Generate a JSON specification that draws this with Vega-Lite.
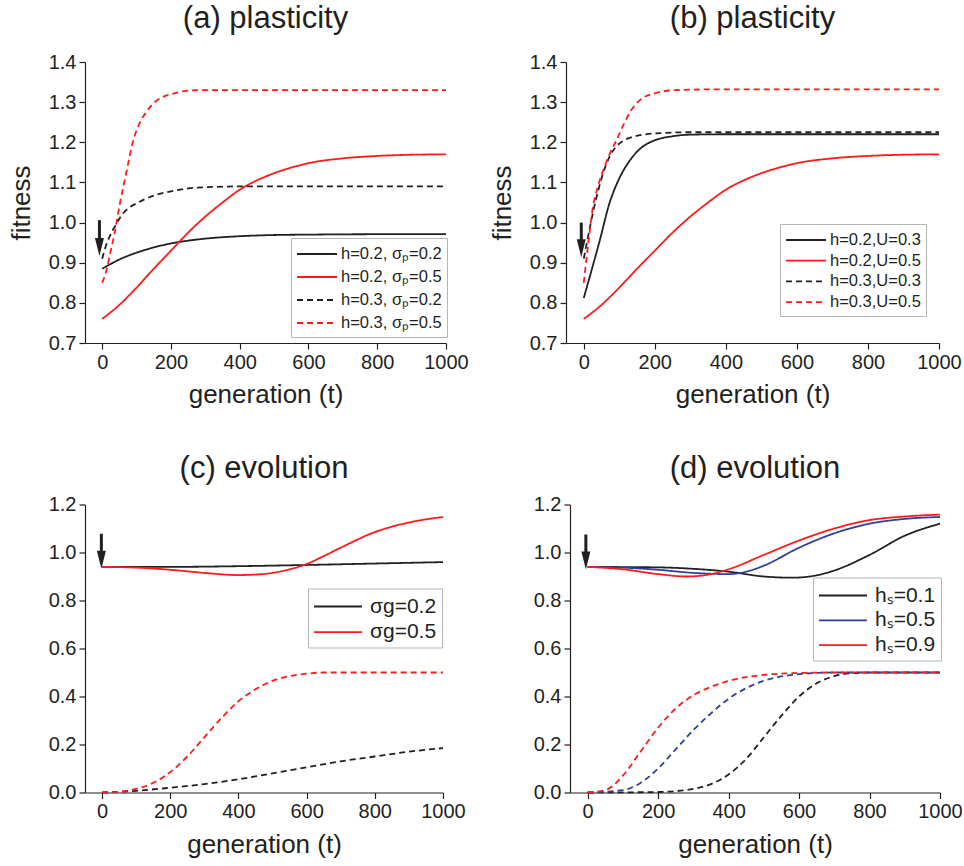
{
  "$schema": "https://vega.github.io/schema/vega-lite/v6.json",
  "padding": {"left": 5, "top": 3, "right": 0, "bottom": 0},
  "background": "white",
  "config": {
    "font": "Liberation Sans",
    "view": {"stroke": null},
    "axis": {"grid": false, "domainColor": "#231f20", "tickColor": "#231f20", "labelColor": "#231f20", "titleColor": "#231f20", "labelFont": "Liberation Sans", "labelFontSize": 20, "titleFont": "Liberation Sans", "titleFontSize": 26, "titleFontWeight": "normal", "labelOverlap": false, "labelFlush": false, "domainWidth": 1.2, "tickWidth": 1.2, "labelPadding": 3},
    "title": {"font": "Liberation Sans", "fontSize": 31, "fontWeight": "normal", "color": "#231f20", "anchor": "middle", "frame": "group", "offset": 14},
    "legend": {"orient": "none", "symbolType": "M-2,0H2", "symbolStrokeWidth": 2, "labelFont": "Liberation Sans", "labelColor": "#231f20", "strokeColor": "#b5b5b5", "fillColor": "white", "padding": 5, "cornerRadius": 0},
    "line": {"strokeWidth": 1.8, "interpolate": "monotone"}
  },
  "resolve": {"scale": {"color": "independent", "strokeDash": "independent"}, "legend": {"color": "independent", "strokeDash": "independent"}},
  "datasets": {
    "a": [
      {"t":0,"f":0.885,"s":"h=0.2, σₚ=0.2"},{"t":25,"f":0.897,"s":"h=0.2, σₚ=0.2"},{"t":50,"f":0.908,"s":"h=0.2, σₚ=0.2"},{"t":100,"f":0.925,"s":"h=0.2, σₚ=0.2"},{"t":150,"f":0.938,"s":"h=0.2, σₚ=0.2"},{"t":200,"f":0.948,"s":"h=0.2, σₚ=0.2"},{"t":250,"f":0.955,"s":"h=0.2, σₚ=0.2"},{"t":300,"f":0.96,"s":"h=0.2, σₚ=0.2"},{"t":400,"f":0.966,"s":"h=0.2, σₚ=0.2"},{"t":500,"f":0.969,"s":"h=0.2, σₚ=0.2"},{"t":600,"f":0.97,"s":"h=0.2, σₚ=0.2"},{"t":800,"f":0.971,"s":"h=0.2, σₚ=0.2"},{"t":1000,"f":0.971,"s":"h=0.2, σₚ=0.2"},
      {"t":0,"f":0.76,"s":"h=0.2, σₚ=0.5"},{"t":50,"f":0.795,"s":"h=0.2, σₚ=0.5"},{"t":100,"f":0.838,"s":"h=0.2, σₚ=0.5"},{"t":150,"f":0.885,"s":"h=0.2, σₚ=0.5"},{"t":200,"f":0.93,"s":"h=0.2, σₚ=0.5"},{"t":250,"f":0.975,"s":"h=0.2, σₚ=0.5"},{"t":300,"f":1.015,"s":"h=0.2, σₚ=0.5"},{"t":350,"f":1.05,"s":"h=0.2, σₚ=0.5"},{"t":400,"f":1.082,"s":"h=0.2, σₚ=0.5"},{"t":450,"f":1.105,"s":"h=0.2, σₚ=0.5"},{"t":500,"f":1.123,"s":"h=0.2, σₚ=0.5"},{"t":550,"f":1.137,"s":"h=0.2, σₚ=0.5"},{"t":600,"f":1.148,"s":"h=0.2, σₚ=0.5"},{"t":700,"f":1.16,"s":"h=0.2, σₚ=0.5"},{"t":800,"f":1.166,"s":"h=0.2, σₚ=0.5"},{"t":900,"f":1.169,"s":"h=0.2, σₚ=0.5"},{"t":1000,"f":1.17,"s":"h=0.2, σₚ=0.5"},
      {"t":0,"f":0.91,"s":"h=0.3, σₚ=0.2"},{"t":10,"f":0.94,"s":"h=0.3, σₚ=0.2"},{"t":20,"f":0.962,"s":"h=0.3, σₚ=0.2"},{"t":40,"f":0.995,"s":"h=0.3, σₚ=0.2"},{"t":60,"f":1.022,"s":"h=0.3, σₚ=0.2"},{"t":80,"f":1.038,"s":"h=0.3, σₚ=0.2"},{"t":100,"f":1.048,"s":"h=0.3, σₚ=0.2"},{"t":150,"f":1.067,"s":"h=0.3, σₚ=0.2"},{"t":200,"f":1.078,"s":"h=0.3, σₚ=0.2"},{"t":250,"f":1.085,"s":"h=0.3, σₚ=0.2"},{"t":300,"f":1.088,"s":"h=0.3, σₚ=0.2"},{"t":400,"f":1.09,"s":"h=0.3, σₚ=0.2"},{"t":1000,"f":1.09,"s":"h=0.3, σₚ=0.2"},
      {"t":0,"f":0.85,"s":"h=0.3, σₚ=0.5"},{"t":12,"f":0.88,"s":"h=0.3, σₚ=0.5"},{"t":25,"f":0.93,"s":"h=0.3, σₚ=0.5"},{"t":36,"f":0.973,"s":"h=0.3, σₚ=0.5"},{"t":50,"f":1.04,"s":"h=0.3, σₚ=0.5"},{"t":70,"f":1.124,"s":"h=0.3, σₚ=0.5"},{"t":89,"f":1.2,"s":"h=0.3, σₚ=0.5"},{"t":110,"f":1.25,"s":"h=0.3, σₚ=0.5"},{"t":128,"f":1.275,"s":"h=0.3, σₚ=0.5"},{"t":150,"f":1.298,"s":"h=0.3, σₚ=0.5"},{"t":176,"f":1.313,"s":"h=0.3, σₚ=0.5"},{"t":210,"f":1.322,"s":"h=0.3, σₚ=0.5"},{"t":243,"f":1.328,"s":"h=0.3, σₚ=0.5"},{"t":300,"f":1.33,"s":"h=0.3, σₚ=0.5"},{"t":1000,"f":1.33,"s":"h=0.3, σₚ=0.5"}
    ],
    "b": [
      {"t":0,"f":0.812,"s":"h=0.2,U=0.3"},{"t":20,"f":0.875,"s":"h=0.2,U=0.3"},{"t":44,"f":0.952,"s":"h=0.2,U=0.3"},{"t":73,"f":1.05,"s":"h=0.2,U=0.3"},{"t":100,"f":1.11,"s":"h=0.2,U=0.3"},{"t":130,"f":1.155,"s":"h=0.2,U=0.3"},{"t":160,"f":1.185,"s":"h=0.2,U=0.3"},{"t":200,"f":1.205,"s":"h=0.2,U=0.3"},{"t":250,"f":1.215,"s":"h=0.2,U=0.3"},{"t":300,"f":1.219,"s":"h=0.2,U=0.3"},{"t":400,"f":1.22,"s":"h=0.2,U=0.3"},{"t":1000,"f":1.22,"s":"h=0.2,U=0.3"},
      {"t":0,"f":0.76,"s":"h=0.2,U=0.5"},{"t":50,"f":0.795,"s":"h=0.2,U=0.5"},{"t":100,"f":0.838,"s":"h=0.2,U=0.5"},{"t":150,"f":0.885,"s":"h=0.2,U=0.5"},{"t":200,"f":0.93,"s":"h=0.2,U=0.5"},{"t":250,"f":0.975,"s":"h=0.2,U=0.5"},{"t":300,"f":1.015,"s":"h=0.2,U=0.5"},{"t":350,"f":1.05,"s":"h=0.2,U=0.5"},{"t":400,"f":1.082,"s":"h=0.2,U=0.5"},{"t":450,"f":1.105,"s":"h=0.2,U=0.5"},{"t":500,"f":1.123,"s":"h=0.2,U=0.5"},{"t":550,"f":1.137,"s":"h=0.2,U=0.5"},{"t":600,"f":1.148,"s":"h=0.2,U=0.5"},{"t":700,"f":1.16,"s":"h=0.2,U=0.5"},{"t":800,"f":1.166,"s":"h=0.2,U=0.5"},{"t":900,"f":1.169,"s":"h=0.2,U=0.5"},{"t":1000,"f":1.17,"s":"h=0.2,U=0.5"},
      {"t":0,"f":0.91,"s":"h=0.3,U=0.3"},{"t":11,"f":0.96,"s":"h=0.3,U=0.3"},{"t":20,"f":1.0,"s":"h=0.3,U=0.3"},{"t":35,"f":1.06,"s":"h=0.3,U=0.3"},{"t":50,"f":1.11,"s":"h=0.3,U=0.3"},{"t":73,"f":1.165,"s":"h=0.3,U=0.3"},{"t":90,"f":1.188,"s":"h=0.3,U=0.3"},{"t":110,"f":1.203,"s":"h=0.3,U=0.3"},{"t":140,"f":1.214,"s":"h=0.3,U=0.3"},{"t":200,"f":1.222,"s":"h=0.3,U=0.3"},{"t":300,"f":1.225,"s":"h=0.3,U=0.3"},{"t":1000,"f":1.225,"s":"h=0.3,U=0.3"},
      {"t":0,"f":0.85,"s":"h=0.3,U=0.5"},{"t":13,"f":0.95,"s":"h=0.3,U=0.5"},{"t":26,"f":1.04,"s":"h=0.3,U=0.5"},{"t":40,"f":1.09,"s":"h=0.3,U=0.5"},{"t":59,"f":1.14,"s":"h=0.3,U=0.5"},{"t":75,"f":1.175,"s":"h=0.3,U=0.5"},{"t":92,"f":1.205,"s":"h=0.3,U=0.5"},{"t":110,"f":1.24,"s":"h=0.3,U=0.5"},{"t":130,"f":1.275,"s":"h=0.3,U=0.5"},{"t":158,"f":1.305,"s":"h=0.3,U=0.5"},{"t":200,"f":1.322,"s":"h=0.3,U=0.5"},{"t":260,"f":1.33,"s":"h=0.3,U=0.5"},{"t":400,"f":1.332,"s":"h=0.3,U=0.5"},{"t":1000,"f":1.332,"s":"h=0.3,U=0.5"}
    ],
    "c": [
      {"t":0,"f":0.94,"s":"σg=0.2","d":"solid"},{"t":200,"f":0.94,"s":"σg=0.2","d":"solid"},{"t":400,"f":0.943,"s":"σg=0.2","d":"solid"},{"t":600,"f":0.948,"s":"σg=0.2","d":"solid"},{"t":800,"f":0.954,"s":"σg=0.2","d":"solid"},{"t":1000,"f":0.96,"s":"σg=0.2","d":"solid"},
      {"t":0,"f":0.94,"s":"σg=0.5","d":"solid"},{"t":100,"f":0.937,"s":"σg=0.5","d":"solid"},{"t":200,"f":0.928,"s":"σg=0.5","d":"solid"},{"t":300,"f":0.915,"s":"σg=0.5","d":"solid"},{"t":400,"f":0.906,"s":"σg=0.5","d":"solid"},{"t":450,"f":0.908,"s":"σg=0.5","d":"solid"},{"t":500,"f":0.915,"s":"σg=0.5","d":"solid"},{"t":550,"f":0.93,"s":"σg=0.5","d":"solid"},{"t":600,"f":0.952,"s":"σg=0.5","d":"solid"},{"t":650,"f":0.985,"s":"σg=0.5","d":"solid"},{"t":700,"f":1.02,"s":"σg=0.5","d":"solid"},{"t":800,"f":1.085,"s":"σg=0.5","d":"solid"},{"t":900,"f":1.125,"s":"σg=0.5","d":"solid"},{"t":1000,"f":1.148,"s":"σg=0.5","d":"solid"},
      {"t":0,"f":0.0,"s":"σg=0.2 ","d":"dashed"},{"t":100,"f":0.007,"s":"σg=0.2 ","d":"dashed"},{"t":200,"f":0.02,"s":"σg=0.2 ","d":"dashed"},{"t":300,"f":0.035,"s":"σg=0.2 ","d":"dashed"},{"t":400,"f":0.055,"s":"σg=0.2 ","d":"dashed"},{"t":500,"f":0.08,"s":"σg=0.2 ","d":"dashed"},{"t":600,"f":0.105,"s":"σg=0.2 ","d":"dashed"},{"t":700,"f":0.13,"s":"σg=0.2 ","d":"dashed"},{"t":800,"f":0.15,"s":"σg=0.2 ","d":"dashed"},{"t":900,"f":0.17,"s":"σg=0.2 ","d":"dashed"},{"t":1000,"f":0.185,"s":"σg=0.2 ","d":"dashed"},
      {"t":0,"f":0.0,"s":"σg=0.5 ","d":"dashed"},{"t":50,"f":0.003,"s":"σg=0.5 ","d":"dashed"},{"t":100,"f":0.015,"s":"σg=0.5 ","d":"dashed"},{"t":150,"f":0.04,"s":"σg=0.5 ","d":"dashed"},{"t":200,"f":0.085,"s":"σg=0.5 ","d":"dashed"},{"t":250,"f":0.15,"s":"σg=0.5 ","d":"dashed"},{"t":300,"f":0.23,"s":"σg=0.5 ","d":"dashed"},{"t":350,"f":0.31,"s":"σg=0.5 ","d":"dashed"},{"t":400,"f":0.38,"s":"σg=0.5 ","d":"dashed"},{"t":450,"f":0.43,"s":"σg=0.5 ","d":"dashed"},{"t":500,"f":0.465,"s":"σg=0.5 ","d":"dashed"},{"t":550,"f":0.485,"s":"σg=0.5 ","d":"dashed"},{"t":600,"f":0.495,"s":"σg=0.5 ","d":"dashed"},{"t":650,"f":0.5,"s":"σg=0.5 ","d":"dashed"},{"t":1000,"f":0.5,"s":"σg=0.5 ","d":"dashed"}
    ],
    "d": [
      {"t":0,"f":0.94,"s":"hₛ=0.1","d":"solid"},{"t":200,"f":0.938,"s":"hₛ=0.1","d":"solid"},{"t":300,"f":0.932,"s":"hₛ=0.1","d":"solid"},{"t":400,"f":0.92,"s":"hₛ=0.1","d":"solid"},{"t":500,"f":0.9,"s":"hₛ=0.1","d":"solid"},{"t":580,"f":0.895,"s":"hₛ=0.1","d":"solid"},{"t":650,"f":0.905,"s":"hₛ=0.1","d":"solid"},{"t":700,"f":0.925,"s":"hₛ=0.1","d":"solid"},{"t":800,"f":0.99,"s":"hₛ=0.1","d":"solid"},{"t":900,"f":1.07,"s":"hₛ=0.1","d":"solid"},{"t":1000,"f":1.12,"s":"hₛ=0.1","d":"solid"},
      {"t":0,"f":0.94,"s":"hₛ=0.5","d":"solid"},{"t":100,"f":0.937,"s":"hₛ=0.5","d":"solid"},{"t":200,"f":0.928,"s":"hₛ=0.5","d":"solid"},{"t":300,"f":0.915,"s":"hₛ=0.5","d":"solid"},{"t":400,"f":0.91,"s":"hₛ=0.5","d":"solid"},{"t":450,"f":0.92,"s":"hₛ=0.5","d":"solid"},{"t":500,"f":0.945,"s":"hₛ=0.5","d":"solid"},{"t":600,"f":1.02,"s":"hₛ=0.5","d":"solid"},{"t":700,"f":1.08,"s":"hₛ=0.5","d":"solid"},{"t":800,"f":1.12,"s":"hₛ=0.5","d":"solid"},{"t":900,"f":1.14,"s":"hₛ=0.5","d":"solid"},{"t":1000,"f":1.148,"s":"hₛ=0.5","d":"solid"},
      {"t":0,"f":0.94,"s":"hₛ=0.9","d":"solid"},{"t":100,"f":0.93,"s":"hₛ=0.9","d":"solid"},{"t":200,"f":0.91,"s":"hₛ=0.9","d":"solid"},{"t":280,"f":0.9,"s":"hₛ=0.9","d":"solid"},{"t":350,"f":0.91,"s":"hₛ=0.9","d":"solid"},{"t":400,"f":0.93,"s":"hₛ=0.9","d":"solid"},{"t":500,"f":0.99,"s":"hₛ=0.9","d":"solid"},{"t":600,"f":1.05,"s":"hₛ=0.9","d":"solid"},{"t":700,"f":1.1,"s":"hₛ=0.9","d":"solid"},{"t":800,"f":1.135,"s":"hₛ=0.9","d":"solid"},{"t":900,"f":1.15,"s":"hₛ=0.9","d":"solid"},{"t":1000,"f":1.158,"s":"hₛ=0.9","d":"solid"},
      {"t":0,"f":0.0,"s":"hₛ=0.1 ","d":"dashed"},{"t":200,"f":0.002,"s":"hₛ=0.1 ","d":"dashed"},{"t":300,"f":0.015,"s":"hₛ=0.1 ","d":"dashed"},{"t":350,"f":0.035,"s":"hₛ=0.1 ","d":"dashed"},{"t":400,"f":0.075,"s":"hₛ=0.1 ","d":"dashed"},{"t":450,"f":0.14,"s":"hₛ=0.1 ","d":"dashed"},{"t":500,"f":0.23,"s":"hₛ=0.1 ","d":"dashed"},{"t":550,"f":0.32,"s":"hₛ=0.1 ","d":"dashed"},{"t":600,"f":0.4,"s":"hₛ=0.1 ","d":"dashed"},{"t":650,"f":0.455,"s":"hₛ=0.1 ","d":"dashed"},{"t":700,"f":0.485,"s":"hₛ=0.1 ","d":"dashed"},{"t":750,"f":0.497,"s":"hₛ=0.1 ","d":"dashed"},{"t":800,"f":0.5,"s":"hₛ=0.1 ","d":"dashed"},{"t":1000,"f":0.5,"s":"hₛ=0.1 ","d":"dashed"},
      {"t":0,"f":0.0,"s":"hₛ=0.5 ","d":"dashed"},{"t":100,"f":0.01,"s":"hₛ=0.5 ","d":"dashed"},{"t":150,"f":0.04,"s":"hₛ=0.5 ","d":"dashed"},{"t":200,"f":0.1,"s":"hₛ=0.5 ","d":"dashed"},{"t":250,"f":0.18,"s":"hₛ=0.5 ","d":"dashed"},{"t":300,"f":0.26,"s":"hₛ=0.5 ","d":"dashed"},{"t":350,"f":0.33,"s":"hₛ=0.5 ","d":"dashed"},{"t":400,"f":0.39,"s":"hₛ=0.5 ","d":"dashed"},{"t":450,"f":0.435,"s":"hₛ=0.5 ","d":"dashed"},{"t":500,"f":0.465,"s":"hₛ=0.5 ","d":"dashed"},{"t":600,"f":0.493,"s":"hₛ=0.5 ","d":"dashed"},{"t":700,"f":0.5,"s":"hₛ=0.5 ","d":"dashed"},{"t":1000,"f":0.5,"s":"hₛ=0.5 ","d":"dashed"},
      {"t":0,"f":0.0,"s":"hₛ=0.9 ","d":"dashed"},{"t":50,"f":0.01,"s":"hₛ=0.9 ","d":"dashed"},{"t":100,"f":0.07,"s":"hₛ=0.9 ","d":"dashed"},{"t":150,"f":0.17,"s":"hₛ=0.9 ","d":"dashed"},{"t":200,"f":0.27,"s":"hₛ=0.9 ","d":"dashed"},{"t":250,"f":0.35,"s":"hₛ=0.9 ","d":"dashed"},{"t":300,"f":0.405,"s":"hₛ=0.9 ","d":"dashed"},{"t":350,"f":0.44,"s":"hₛ=0.9 ","d":"dashed"},{"t":400,"f":0.465,"s":"hₛ=0.9 ","d":"dashed"},{"t":500,"f":0.49,"s":"hₛ=0.9 ","d":"dashed"},{"t":600,"f":0.498,"s":"hₛ=0.9 ","d":"dashed"},{"t":700,"f":0.5,"s":"hₛ=0.9 ","d":"dashed"},{"t":1000,"f":0.5,"s":"hₛ=0.9 ","d":"dashed"}
    ],
    "arrA": [{"t":-8,"y1":1.006,"y2":0.945,"yh":0.939}],
    "arrB": [{"t":-7,"y1":1.0,"y2":0.94,"yh":0.936}],
    "arrC": [{"t":-2,"y1":1.078,"y2":0.98,"yh":0.97}],
    "arrD": [{"t":-5,"y1":1.075,"y2":0.977,"yh":0.967}]
  },
  "spacing": 45.5,
  "vconcat": [
    {
      "spacing": 20,
      "resolve": {"scale": {"color": "independent", "strokeDash": "independent"}, "legend": {"color": "independent", "strokeDash": "independent"}},
      "hconcat": [
        {
          "width": 361, "height": 281,
          "title": {"text": "(a) plasticity", "offset": 17},
          "resolve": {"scale": {"color": "shared", "strokeDash": "shared"}},
          "layer": [
            {"data": {"name": "a"}, "mark": {"type": "line"},
             "encoding": {
               "x": {"field": "t", "type": "quantitative", "scale": {"domain": [-50, 1000], "nice": false, "zero": false}, "axis": {"title": "generation (t)", "format": "d", "labelOverlap": false, "values": [0,100,200,300,400,500,600,700,800,900,1000], "labelExpr": "datum.value % 200 === 0 ? datum.label : ''", "tickSize": {"condition": {"test": "datum.value % 200 === 0", "value": 6}, "value": 3}, "titlePadding": 9}},
               "y": {"field": "f", "type": "quantitative", "scale": {"domain": [0.7, 1.4], "nice": false, "zero": false}, "axis": {"title": "fitness", "format": ".1f", "labelOverlap": false, "values": [0.7,0.75,0.8,0.85,0.9,0.95,1.0,1.05,1.1,1.15,1.2,1.25,1.3,1.35,1.4], "labelExpr": "abs(datum.value*10 - round(datum.value*10)) < 0.001 ? datum.label : ''", "tickSize": {"condition": {"test": "abs(datum.value*10 - round(datum.value*10)) < 0.001", "value": 6}, "value": 3}, "titlePadding": 14}},
               "color": {"field": "s", "type": "nominal", "scale": {"domain": ["h=0.2, σₚ=0.2","h=0.2, σₚ=0.5","h=0.3, σₚ=0.2","h=0.3, σₚ=0.5"], "range": ["#231f20","#ff1a1a","#231f20","#ff1a1a"]}, "legend": {"title": null, "legendX": 206, "legendY": 176, "labelFontSize": 16.5, "symbolSize": 400, "symbolOffset": 10, "labelOffset": 13, "rowPadding": 3}},
               "strokeDash": {"field": "s", "type": "nominal", "scale": {"domain": ["h=0.2, σₚ=0.2","h=0.2, σₚ=0.5","h=0.3, σₚ=0.2","h=0.3, σₚ=0.5"], "range": [[1,0],[1,0],[6,4],[6,4]]}, "legend": {"title": null, "legendX": 206, "legendY": 176, "labelFontSize": 16.5, "symbolSize": 400, "symbolOffset": 10, "labelOffset": 13, "rowPadding": 3}}
             }},
            {"data": {"name": "arrA"}, "mark": {"type": "rule", "strokeWidth": 3, "color": "#231f20"},
             "encoding": {"x": {"field": "t", "type": "quantitative"}, "y": {"field": "y1", "type": "quantitative"}, "y2": {"field": "y2"}}},
            {"data": {"name": "arrA"}, "mark": {"type": "point", "shape": "M-0.5,-1L0.5,-1L0,1Z", "filled": true, "color": "#231f20", "opacity": 1, "size": 324},
             "encoding": {"x": {"field": "t", "type": "quantitative"}, "y": {"field": "yh", "type": "quantitative"}}}
          ]
        },
        {
          "width": 373, "height": 281,
          "title": {"text": "(b) plasticity", "offset": 17},
          "resolve": {"scale": {"color": "shared", "strokeDash": "shared"}},
          "layer": [
            {"data": {"name": "b"}, "mark": {"type": "line"},
             "encoding": {
               "x": {"field": "t", "type": "quantitative", "scale": {"domain": [-50, 1000], "nice": false, "zero": false}, "axis": {"title": "generation (t)", "format": "d", "labelOverlap": false, "values": [0,100,200,300,400,500,600,700,800,900,1000], "labelExpr": "datum.value % 200 === 0 ? datum.label : ''", "tickSize": {"condition": {"test": "datum.value % 200 === 0", "value": 6}, "value": 3}, "titlePadding": 9}},
               "y": {"field": "f", "type": "quantitative", "scale": {"domain": [0.7, 1.4], "nice": false, "zero": false}, "axis": {"title": "fitness", "format": ".1f", "labelOverlap": false, "values": [0.7,0.75,0.8,0.85,0.9,0.95,1.0,1.05,1.1,1.15,1.2,1.25,1.3,1.35,1.4], "labelExpr": "abs(datum.value*10 - round(datum.value*10)) < 0.001 ? datum.label : ''", "tickSize": {"condition": {"test": "abs(datum.value*10 - round(datum.value*10)) < 0.001", "value": 6}, "value": 3}, "titlePadding": 14}},
               "color": {"field": "s", "type": "nominal", "scale": {"domain": ["h=0.2,U=0.3","h=0.2,U=0.5","h=0.3,U=0.3","h=0.3,U=0.5"], "range": ["#231f20","#ff1a1a","#231f20","#ff1a1a"]}, "legend": {"title": null, "legendX": 214, "legendY": 162, "labelFontSize": 16.5, "symbolSize": 400, "symbolOffset": 10, "labelOffset": 13, "rowPadding": 0.7}},
               "strokeDash": {"field": "s", "type": "nominal", "scale": {"domain": ["h=0.2,U=0.3","h=0.2,U=0.5","h=0.3,U=0.3","h=0.3,U=0.5"], "range": [[1,0],[1,0],[6,4],[6,4]]}, "legend": {"title": null, "legendX": 214, "legendY": 162, "labelFontSize": 16.5, "symbolSize": 400, "symbolOffset": 10, "labelOffset": 13, "rowPadding": 0.7}}
             }},
            {"data": {"name": "arrB"}, "mark": {"type": "rule", "strokeWidth": 3, "color": "#231f20"},
             "encoding": {"x": {"field": "t", "type": "quantitative"}, "y": {"field": "y1", "type": "quantitative"}, "y2": {"field": "y2"}}},
            {"data": {"name": "arrB"}, "mark": {"type": "point", "shape": "M-0.5,-1L0.5,-1L0,1Z", "filled": true, "color": "#231f20", "opacity": 1, "size": 324},
             "encoding": {"x": {"field": "t", "type": "quantitative"}, "y": {"field": "yh", "type": "quantitative"}}}
          ]
        }
      ]
    },
    {
      "spacing": 24,
      "resolve": {"scale": {"color": "independent", "strokeDash": "independent"}, "legend": {"color": "independent", "strokeDash": "independent"}},
      "hconcat": [
        {
          "width": 358, "height": 288,
          "title": {"text": "(c) evolution", "offset": 10},
          "layer": [
            {"data": {"name": "c"}, "mark": {"type": "line"},
             "encoding": {
               "x": {"field": "t", "type": "quantitative", "scale": {"domain": [-50, 1000], "nice": false, "zero": false}, "axis": {"title": "generation (t)", "format": "d", "labelOverlap": false, "values": [0,100,200,300,400,500,600,700,800,900,1000], "labelExpr": "datum.value % 200 === 0 ? datum.label : ''", "tickSize": {"condition": {"test": "datum.value % 200 === 0", "value": 6}, "value": 3}, "titlePadding": 10}},
               "y": {"field": "f", "type": "quantitative", "scale": {"domain": [0, 1.2], "nice": false, "zero": false}, "axis": {"title": "fitness", "titleOpacity": 0, "format": ".1f", "labelOverlap": false, "values": [0,0.1,0.2,0.3,0.4,0.5,0.6,0.7,0.8,0.9,1.0,1.1,1.2], "labelExpr": "abs(datum.value*5 - round(datum.value*5)) < 0.001 ? datum.label : ''", "tickSize": {"condition": {"test": "abs(datum.value*5 - round(datum.value*5)) < 0.001", "value": 6}, "value": 3}, "titlePadding": 17}},
               "color": {"field": "s", "type": "nominal", "scale": {"domain": ["σg=0.2","σg=0.5","σg=0.2 ","σg=0.5 "], "range": ["#231f20","#ff1a1a","#231f20","#ff1a1a"]}, "legend": {"title": null, "values": ["σg=0.2","σg=0.5"], "legendX": 223, "legendY": 84, "labelFontSize": 21, "symbolSize": 576, "symbolOffset": 12, "labelOffset": 19, "rowPadding": 2.7}},
               "strokeDash": {"field": "d", "type": "nominal", "scale": {"domain": ["solid","dashed"], "range": [[1,0],[6,4]]}, "legend": null}
             }},
            {"data": {"name": "arrC"}, "mark": {"type": "rule", "strokeWidth": 3, "color": "#231f20"},
             "encoding": {"x": {"field": "t", "type": "quantitative"}, "y": {"field": "y1", "type": "quantitative"}, "y2": {"field": "y2"}}},
            {"data": {"name": "arrC"}, "mark": {"type": "point", "shape": "M-0.5,-1L0.5,-1L0,1Z", "filled": true, "color": "#231f20", "opacity": 1, "size": 324},
             "encoding": {"x": {"field": "t", "type": "quantitative"}, "y": {"field": "yh", "type": "quantitative"}}}
          ]
        },
        {
          "width": 370, "height": 288,
          "title": {"text": "(d) evolution", "offset": 10},
          "layer": [
            {"data": {"name": "d"}, "mark": {"type": "line"},
             "encoding": {
               "x": {"field": "t", "type": "quantitative", "scale": {"domain": [-50, 1000], "nice": false, "zero": false}, "axis": {"title": "generation (t)", "format": "d", "labelOverlap": false, "values": [0,100,200,300,400,500,600,700,800,900,1000], "labelExpr": "datum.value % 200 === 0 ? datum.label : ''", "tickSize": {"condition": {"test": "datum.value % 200 === 0", "value": 6}, "value": 3}, "titlePadding": 10}},
               "y": {"field": "f", "type": "quantitative", "scale": {"domain": [0, 1.2], "nice": false, "zero": false}, "axis": {"title": "fitness", "titleOpacity": 0, "format": ".1f", "labelOverlap": false, "values": [0,0.1,0.2,0.3,0.4,0.5,0.6,0.7,0.8,0.9,1.0,1.1,1.2], "labelExpr": "abs(datum.value*5 - round(datum.value*5)) < 0.001 ? datum.label : ''", "tickSize": {"condition": {"test": "abs(datum.value*5 - round(datum.value*5)) < 0.001", "value": 6}, "value": 3}, "titlePadding": 17}},
               "color": {"field": "s", "type": "nominal", "scale": {"domain": ["hₛ=0.1","hₛ=0.5","hₛ=0.9","hₛ=0.1 ","hₛ=0.5 ","hₛ=0.9 "], "range": ["#231f20","#2e3f9e","#ff1a1a","#231f20","#2e3f9e","#ff1a1a"]}, "legend": {"title": null, "values": ["hₛ=0.1","hₛ=0.5","hₛ=0.9"], "legendX": 243, "legendY": 73, "labelFontSize": 21, "symbolSize": 576, "symbolOffset": 12, "labelOffset": 19, "rowPadding": 1.8}},
               "strokeDash": {"field": "d", "type": "nominal", "scale": {"domain": ["solid","dashed"], "range": [[1,0],[6,4]]}, "legend": null}
             }},
            {"data": {"name": "arrD"}, "mark": {"type": "rule", "strokeWidth": 3, "color": "#231f20"},
             "encoding": {"x": {"field": "t", "type": "quantitative"}, "y": {"field": "y1", "type": "quantitative"}, "y2": {"field": "y2"}}},
            {"data": {"name": "arrD"}, "mark": {"type": "point", "shape": "M-0.5,-1L0.5,-1L0,1Z", "filled": true, "color": "#231f20", "opacity": 1, "size": 324},
             "encoding": {"x": {"field": "t", "type": "quantitative"}, "y": {"field": "yh", "type": "quantitative"}}}
          ]
        }
      ]
    }
  ]
}
